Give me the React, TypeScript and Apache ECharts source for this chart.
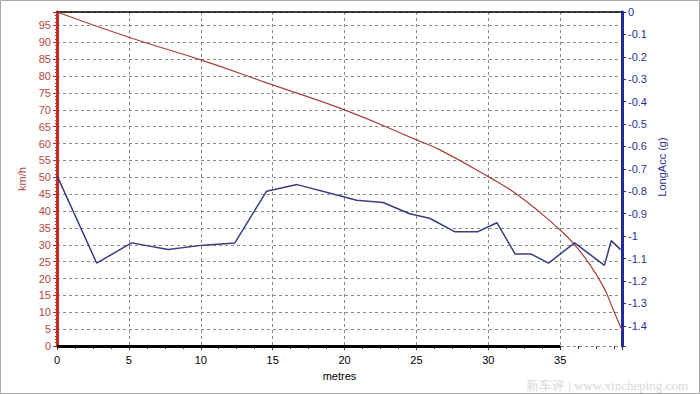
import React, { useEffect, useRef } from "react";
import * as echarts from "echarts";

// Speed trace (km/h) against distance (metres)
const speedDist = [0, 5, 10, 15, 20, 25, 26.6, 30, 32.2, 35, 36, 37, 38, 38.7, 39.3];
const speedKmh = [99, 91.5, 84.8, 77.4, 70, 61.1, 58.2, 50.2, 44.3, 34.4, 30, 24.5, 17.6, 10.7, 4.7];

// Longitudinal acceleration (g) against distance (metres)
const accDist = [0, 2.76, 5.19, 7.73, 10.17, 12.37, 14.57, 16.7, 19.67, 20.83, 22.68, 24.53, 25.92, 27.66, 29.28, 30.6, 31.87, 32.98, 34.19, 36.0, 37.04, 38.08, 38.55, 39.2];
const longAcc = [-0.73, -1.12, -1.03, -1.06, -1.04, -1.03, -0.8, -0.77, -0.82, -0.84, -0.85, -0.9, -0.92, -0.98, -0.98, -0.94, -1.08, -1.08, -1.12, -1.03, -1.08, -1.13, -1.02, -1.06];

const xMin = 0;
const xMax = 39.3;
const xInterval = 5;
const xAxisLineEnd = 35;
const speedMax = 99;
const speedInterval = 5;
const accMagMax = 1.49;
const accInterval = 0.1;

const RED = "#c62a22";
const RED_TEXT = "#b5473f";
const BLUE = "#1f2a9c";
const BLUE_TEXT = "#2b3190";

export default function App() {
  const ref = useRef<HTMLDivElement>(null);
  useEffect(() => {
    if (!ref.current) return;
    const chart = echarts.init(ref.current, null, { renderer: "svg" });
    const gridDash = { color: "#8a8a8a", width: 1, type: [3, 3] as any };
    chart.setOption({
      animation: false,
      backgroundColor: "#ffffff",
      textStyle: { fontFamily: "Liberation Sans, Arial, sans-serif" },
      grid: { left: 57, right: 78, top: 12, bottom: 48 },
      xAxis: [
        {
          type: "value",
          min: xMin,
          max: xMax,
          interval: xInterval,
          name: "metres",
          nameLocation: "middle",
          nameGap: 24,
          nameTextStyle: { color: "#000", fontSize: 11 },
          axisLine: { show: false, onZero: false },
          axisTick: { show: true, length: 4, lineStyle: { color: "#333" } },
          minorTick: { show: true, splitNumber: 4, length: 3, lineStyle: { color: "#333" } },
          axisLabel: { color: "#000", fontSize: 11, margin: 8, showMaxLabel: false },
          splitLine: { show: true, lineStyle: gridDash },
        },
        {
          type: "value",
          position: "top",
          min: xMin,
          max: xMax,
          axisLine: { show: true, onZero: false, lineStyle: { color: "#000", width: 1.5 } },
          axisTick: { show: false },
          axisLabel: { show: false },
          splitLine: { show: false },
        },
      ],
      yAxis: [
        {
          type: "value",
          position: "left",
          min: 0,
          max: speedMax,
          interval: speedInterval,
          name: "km/h",
          nameLocation: "middle",
          nameGap: 30,
          nameRotate: 90,
          nameTextStyle: { color: RED_TEXT, fontSize: 11 },
          axisLine: { show: true, onZero: false, lineStyle: { color: RED, width: 3 } },
          axisTick: { show: true, length: 4, lineStyle: { color: RED } },
          minorTick: { show: true, splitNumber: 5, length: 2, lineStyle: { color: RED } },
          axisLabel: { color: RED_TEXT, fontSize: 11, margin: 6, showMaxLabel: false },
          splitLine: { show: true, lineStyle: gridDash },
        },
        {
          type: "value",
          position: "right",
          inverse: true,
          min: 0,
          max: accMagMax,
          interval: accInterval,
          axisLine: { show: true, onZero: false, lineStyle: { color: BLUE, width: 3 } },
          axisTick: { show: true, length: 4, lineStyle: { color: BLUE } },
          minorTick: { show: true, splitNumber: 4, length: 2, lineStyle: { color: BLUE } },
          axisLabel: {
            color: BLUE_TEXT,
            fontSize: 11,
            margin: 6,
            showMaxLabel: false,
            formatter: (v: number) => {
              const r = Number(v.toFixed(1));
              return r === 0 ? "0" : "-" + r;
            },
          },
          splitLine: { show: false },
        },
      ],
      graphic: [
        {
          type: "text",
          x: 662,
          y: 167,
          rotation: Math.PI / 2,
          style: {
            text: "LongAcc (g)",
            fill: BLUE_TEXT,
            font: "11px Liberation Sans, Arial, sans-serif",
            align: "center",
            verticalAlign: "middle",
          },
        },
        {
          type: "text",
          right: 12,
          bottom: 2,
          style: {
            text: "新车评 | www.xincheping.com",
            fill: "#d8d8d8",
            font: "13px Liberation Serif, serif",
          },
        },
        {
          type: "rect",
          shape: { x: 0.5, y: 0.5, width: 699, height: 393 },
          style: { fill: "none", stroke: "#a8a8a8", lineWidth: 1 },
          silent: true,
        },
      ],
      series: [
        {
          name: "Speed",
          type: "line",
          xAxisIndex: 0,
          yAxisIndex: 0,
          data: speedDist.map((d, i) => [d, speedKmh[i]]),
          smooth: 0.5,
          showSymbol: false,
          lineStyle: { color: "#a8403a", width: 1.2 },
          markLine: {
            silent: true,
            symbol: ["none", "none"],
            label: { show: false },
            lineStyle: { color: "#000", width: 3, type: "solid" },
            data: [[{ coord: [xMin, 0] }, { coord: [xAxisLineEnd, 0] }]],
          },
          z: 3,
        },
        {
          name: "LongAcc",
          type: "line",
          xAxisIndex: 0,
          yAxisIndex: 1,
          data: accDist.map((d, i) => [d, -longAcc[i]]),
          showSymbol: false,
          lineStyle: { color: "#3a3c82", width: 1.5 },
          z: 4,
        },
      ],
    });
    return () => chart.dispose();
  }, []);
  return (
    <div
      ref={ref}
      style={{ position: "absolute", left: 0, top: 0, width: 700, height: 394 }}
    />
  );
}
